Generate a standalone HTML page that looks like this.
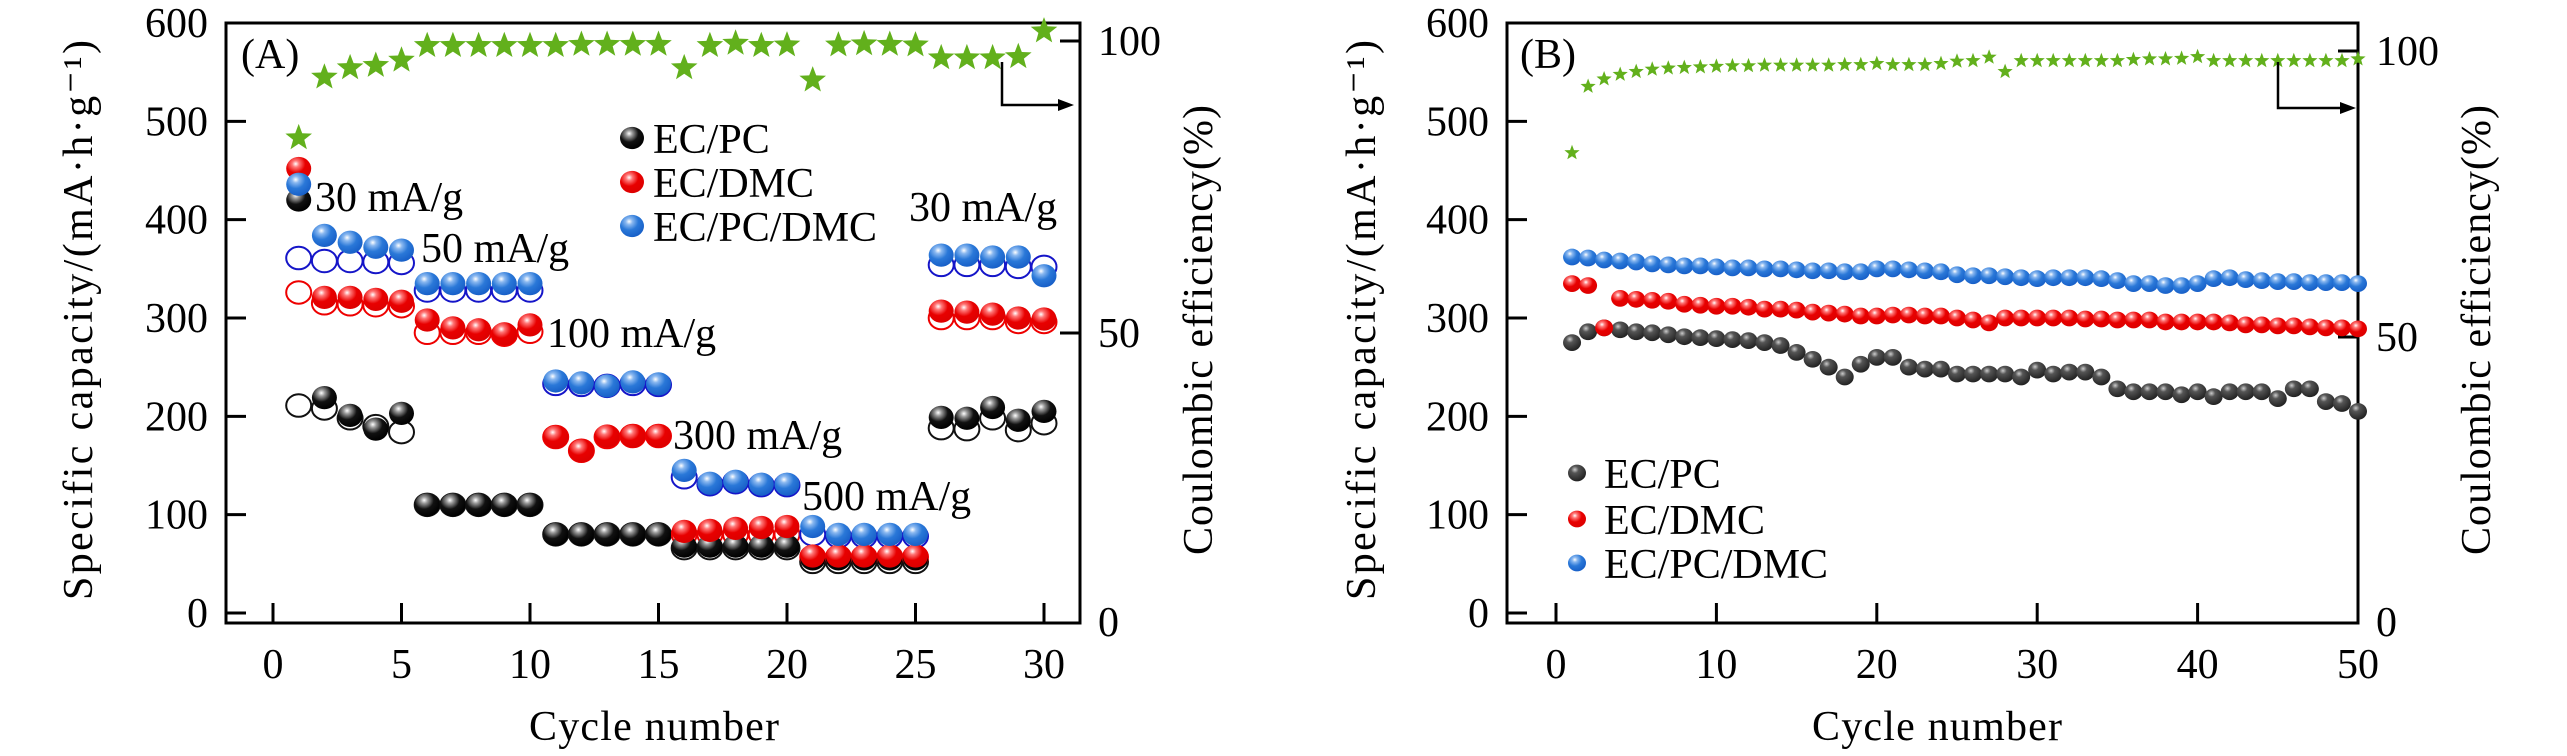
<!DOCTYPE html>
<html><head><meta charset="utf-8"><style>
html,body{margin:0;padding:0;background:#fff;}
svg{display:block;}
svg text{font-family:"Liberation Serif","DejaVu Serif","Times New Roman",serif !important;fill:#000;}
</style></head><body>
<svg id="s" width="2567" height="756" viewBox="0 0 2567 756" xmlns="http://www.w3.org/2000/svg" font-family="Liberation Serif, DejaVu Serif, serif">
<defs>
<radialGradient id="gk" cx="0.38" cy="0.3" r="0.7"><stop offset="0" stop-color="#fff"/><stop offset="0.2" stop-color="#999"/><stop offset="0.55" stop-color="#111"/><stop offset="1" stop-color="#000"/></radialGradient>
<radialGradient id="gr" cx="0.38" cy="0.3" r="0.7"><stop offset="0" stop-color="#fff"/><stop offset="0.2" stop-color="#f77"/><stop offset="0.55" stop-color="#e80000"/><stop offset="1" stop-color="#d00"/></radialGradient>
<radialGradient id="gb" cx="0.38" cy="0.3" r="0.7"><stop offset="0" stop-color="#fff"/><stop offset="0.2" stop-color="#8ab8f0"/><stop offset="0.55" stop-color="#2a78d8"/><stop offset="1" stop-color="#1860c8"/></radialGradient>
<radialGradient id="gk2" cx="0.38" cy="0.3" r="0.7"><stop offset="0" stop-color="#ccc"/><stop offset="0.3" stop-color="#555"/><stop offset="1" stop-color="#222"/></radialGradient>
</defs>
<g id="g"></g>
</svg>
<script>
var g=document.getElementById('g'),NS='http://www.w3.org/2000/svg';
function el(t,a,txt){var e=document.createElementNS(NS,t);for(var k in a)e.setAttribute(k,a[k]);if(t==='text'){e.setAttribute('font-family','Liberation Serif, DejaVu Serif, serif');e.style.fontFamily='"Liberation Serif","DejaVu Serif",serif';}if(txt!=null)e.textContent=txt;g.appendChild(e);return e;}
function star(cx,cy,R){var p=[];for(var i=0;i<10;i++){var r=i%2?R*0.42:R;var a=-Math.PI/2+i*Math.PI/5;p.push((cx+r*Math.cos(a)).toFixed(1)+','+(cy+r*Math.sin(a)).toFixed(1));}el('polygon',{points:p.join(' '),fill:'#62b01c'});}
function ball(x,y,r,f){el('ellipse',{cx:x,cy:y,rx:r,ry:r*0.93,fill:'url(#'+f+')'});}
function hollow(x,y,r,c){el('ellipse',{cx:x,cy:y,rx:r,ry:r*0.9,fill:'none',stroke:c,'stroke-width':2});}
function frame(L,R,T,B){el('rect',{x:L,y:T,width:R-L,height:B-T,fill:'none',stroke:'#000','stroke-width':3});}
var FS=42;
var AL=226,AR=1080,AT=23,AB=623;
function ax(c){return 273+c*25.7;} function ay(v){return 613-v*0.9833;} function ar(v){return 41+(100-v)*5.84;}
frame(AL,AR,AT,AB);
for(var v=0;v<=600;v+=100){el('line',{x1:AL,x2:AL+20,y1:ay(v),y2:ay(v),stroke:'#000','stroke-width':3});el('text',{x:208,y:ay(v)+14,'font-size':FS,'text-anchor':'end'},v);}
for(var c=0;c<=30;c+=5){el('line',{x1:ax(c),x2:ax(c),y1:AB,y2:AB-20,stroke:'#000','stroke-width':3});el('text',{x:ax(c),y:678,'font-size':FS,'text-anchor':'middle'},c);}
[[100,41],[50,333]].forEach(function(p){el('line',{x1:AR,x2:AR-20,y1:p[1],y2:p[1],stroke:'#000','stroke-width':3});el('text',{x:1098,y:p[1]+14,'font-size':FS},p[0]);});
el('text',{x:1098,y:636,'font-size':FS},0);
el('text',{x:654,y:740,'font-size':FS,'text-anchor':'middle',textLength:250},'Cycle number');
el('text',{x:0,y:0,'font-size':FS,'text-anchor':'middle',transform:'translate(92,320) rotate(-90)',textLength:560,lengthAdjust:'spacing'},'Specific capacity/(mA·h·g⁻¹)');
el('text',{x:0,y:0,'font-size':FS,'text-anchor':'middle',transform:'translate(1212,330) rotate(-90)',textLength:450,lengthAdjust:'spacing'},'Coulombic efficiency(%)');
var pcH=[211,208,198,190,184,110,110,110,110,110,80,80,80,80,80,66,66,66,66,66,52,52,52,52,52,188,187,198,186,193];
var pc=[420,219,201,187,203,110,110,110,110,110,80,80,80,80,80,68,68,68,68,68,55,55,55,55,55,199,198,209,196,205];
var dmH=[326,315,314,313,312,285,285,285,283,286,179,165,179,180,180,80,80,80,80,80,57,57,57,57,57,300,300,300,296,296];
var dm=[452,321,321,319,317,298,290,288,284,293,179,165,180,180,180,83,84,86,87,88,58,58,58,58,58,307,306,304,300,299];
var pdH=[361,358,358,357,356,328,328,328,328,328,233,232,231,233,232,138,131,133,130,130,80,78,78,78,78,354,354,354,352,352];
var pd=[436,384,377,372,369,335,335,335,335,335,236,234,231,235,233,145,132,134,131,131,88,80,80,80,80,364,364,362,362,343];
var r=12.5;
for(var i=0;i<30;i++){var x=ax(i+1);
 hollow(x,ay(pcH[i]),r,'#111');hollow(x,ay(dmH[i]),r,'#e00');hollow(x,ay(pdH[i]),r,'#1515c8');}
for(var i=0;i<30;i++){var x=ax(i+1);ball(x,ay(pc[i]),r,'gk');}
for(var i=0;i<30;i++){var x=ax(i+1);ball(x,ay(dm[i]),r,'gr');}
for(var i=0;i<30;i++){var x=ax(i+1);ball(x,ay(pd[i]),r,'gb');}
var ceA=[83.4,93.8,95.4,95.8,96.7,99.2,99.2,99.2,99.2,99.2,99.2,99.4,99.4,99.4,99.4,95.4,99.2,99.6,99.2,99.3,93.3,99.3,99.5,99.4,99.3,97.1,97.1,97.1,97.3,101.7];
for(var i=0;i<30;i++)star(ax(i+1),ar(ceA[i]),14);
el('polyline',{points:'1002,62 1002,105 1060,105',fill:'none',stroke:'#000','stroke-width':2.5});
el('polygon',{points:'1058,99 1074,105 1058,111',fill:'#000'});
el('text',{x:241,y:68,'font-size':FS},'(A)');
[['EC/PC','gk',138],['EC/DMC','gr',182],['EC/PC/DMC','gb',226]].forEach(function(l){ball(632,l[2],12,l[1]);el('text',{x:653,y:l[2]+15,'font-size':FS},l[0]);});
[['30 mA/g',315,211],['50 mA/g',421,262],['100 mA/g',547,347],['300 mA/g',673,449],['500 mA/g',802,510],['30 mA/g',909,221]].forEach(function(t){el('text',{x:t[1],y:t[2],'font-size':FS},t[0]);});
var BL=1507,BR=2358,BT=23,BB=623;
function bx(c){return 1556+c*16.04;} function br(v){return 51+(100-v)*5.72;}
frame(BL,BR,BT,BB);
for(var v=0;v<=600;v+=100){el('line',{x1:BL,x2:BL+20,y1:ay(v),y2:ay(v),stroke:'#000','stroke-width':3});el('text',{x:1489,y:ay(v)+14,'font-size':FS,'text-anchor':'end'},v);}
for(var c=0;c<=50;c+=10){el('line',{x1:bx(c),x2:bx(c),y1:BB,y2:BB-20,stroke:'#000','stroke-width':3});el('text',{x:bx(c),y:678,'font-size':FS,'text-anchor':'middle'},c);}
[[100,51],[50,337]].forEach(function(p){el('line',{x1:BR,x2:BR-20,y1:p[1],y2:p[1],stroke:'#000','stroke-width':3});el('text',{x:2376,y:p[1]+14,'font-size':FS},p[0]);});
el('text',{x:2376,y:636,'font-size':FS},0);
el('text',{x:1937,y:740,'font-size':FS,'text-anchor':'middle',textLength:250},'Cycle number');
el('text',{x:0,y:0,'font-size':FS,'text-anchor':'middle',transform:'translate(1375,320) rotate(-90)',textLength:560,lengthAdjust:'spacing'},'Specific capacity/(mA·h·g⁻¹)');
el('text',{x:0,y:0,'font-size':FS,'text-anchor':'middle',transform:'translate(2490,330) rotate(-90)',textLength:450,lengthAdjust:'spacing'},'Coulombic efficiency(%)');
var bpc=[275,286,290,288,286,285,283,281,280,279,278,277,275,272,265,258,250,240,253,260,260,250,248,248,243,243,243,243,240,247,243,245,245,240,228,225,225,225,222,225,220,225,225,225,218,228,228,215,213,205];
var bdm=[335,333,290,320,319,318,317,314,313,312,312,311,309,309,308,306,305,304,302,302,303,303,302,302,300,298,295,300,300,300,300,300,299,299,298,298,298,296,296,296,296,295,293,293,292,292,291,290,290,289];
var bpd=[362,361,359,358,357,355,354,353,353,352,351,351,350,350,349,348,348,347,347,350,350,349,348,347,344,343,343,342,341,340,341,341,341,340,338,335,335,333,333,335,340,341,339,338,337,337,336,336,336,335];
var rb=9;
for(var i=0;i<50;i++)ball(bx(i+1),ay(bpc[i]),rb,'gk2');
for(var i=0;i<50;i++)ball(bx(i+1),ay(bdm[i]),rb,'gr');
for(var i=0;i<50;i++)ball(bx(i+1),ay(bpd[i]),rb,'gb');
var ceB=[82.2,93.8,95.1,95.9,96.4,96.8,97,97.1,97.2,97.3,97.4,97.4,97.5,97.5,97.5,97.5,97.5,97.6,97.6,97.8,97.6,97.6,97.6,97.8,98.2,98.3,98.9,96.4,98.3,98.3,98.3,98.3,98.3,98.3,98.3,98.5,98.6,98.6,98.7,99,98.3,98.3,98.3,98.3,98.3,98.3,98.3,98.3,98.3,98.6];
for(var i=0;i<50;i++)star(bx(i+1),br(ceB[i]),8);
el('polyline',{points:'2278,62 2278,108 2342,108',fill:'none',stroke:'#000','stroke-width':2.5});
el('polygon',{points:'2340,102 2356,108 2340,114',fill:'#000'});
el('text',{x:1520,y:68,'font-size':FS},'(B)');
[['EC/PC','gk2',473],['EC/DMC','gr',519],['EC/PC/DMC','gb',563]].forEach(function(l){ball(1577,l[2],9,l[1]);el('text',{x:1604,y:l[2]+15,'font-size':FS},l[0]);});
</script>
</body></html>
